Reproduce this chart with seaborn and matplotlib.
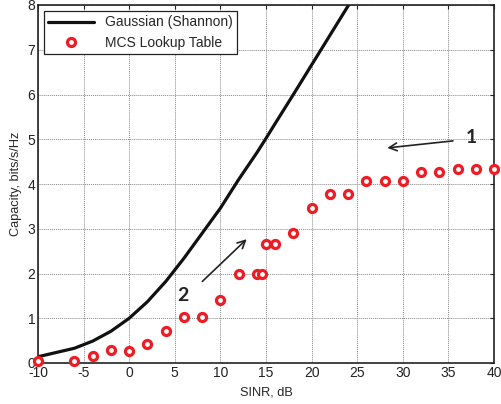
import matplotlib
matplotlib.use("Agg")
import matplotlib.pyplot as plt
import seaborn as sns
import pandas as pd

sns.set_style("white")
plt.rcParams['font.family'] = ['Liberation Sans', 'DejaVu Sans']
plt.rcParams['axes.unicode_minus'] = False

# Gaussian (Shannon) curve
shannon_sinr = [-10, -6, -4, -2, 0, 2, 4, 6, 8, 10, 12, 14, 15, 16, 18, 20, 22, 24, 25]
shannon_cap = [0.14, 0.33, 0.49, 0.71, 1.0, 1.37, 1.82, 2.34, 2.9, 3.46, 4.1, 4.7, 5.02, 5.35, 6.0, 6.66, 7.32, 7.98, 8.3]

# MCS lookup table points
mcs_sinr = [-10, -6, -4, -2, 0, 2, 4, 6, 8, 10, 12, 14, 14.6, 15, 16, 18, 20, 22, 24, 26, 28, 30, 32, 34, 36, 38, 40]
mcs_cap = [0.04, 0.04, 0.15, 0.28, 0.27, 0.42, 0.72, 1.03, 1.02, 1.40, 1.98, 1.98, 1.98, 2.66, 2.66, 2.91, 3.46, 3.77, 3.77, 4.07, 4.07, 4.07, 4.26, 4.26, 4.33, 4.33, 4.33]

xticks = [-10, -5, 0, 5, 10, 15, 20, 25, 30, 35, 40]
yticks = [0, 1, 2, 3, 4, 5, 6, 7, 8]

df_s = pd.DataFrame({"SINR": shannon_sinr, "Cap": shannon_cap})
df_m = pd.DataFrame({"SINR": mcs_sinr, "Cap": mcs_cap})

fig = plt.figure(figsize=(5.01, 4.04), dpi=100)
ax = fig.add_axes([38 / 501, (404 - 363) / 404, (494 - 38) / 501, (363 - 5) / 404])

sns.lineplot(data=df_s, x="SINR", y="Cap", ax=ax, color="#111111", linewidth=2.3,
             label="Gaussian (Shannon)", sort=False)
ax.plot(df_m["SINR"], df_m["Cap"], linestyle="none", marker="o", markersize=5.8,
        markerfacecolor="white", markeredgecolor="#ee1c25", markeredgewidth=2.3,
        label="MCS Lookup Table", clip_on=False, zorder=5)

ax.set_xlim(-10, 40)
ax.set_ylim(0, 8)
ax.set_xticks(xticks)
ax.set_yticks(yticks)
ax.set_xticklabels([str(t) for t in xticks], fontsize=10)
ax.set_yticklabels([str(t) for t in yticks], fontsize=10)
ax.set_xlabel("SINR, dB", fontsize=9.2, labelpad=4.5)
ax.set_ylabel("Capacity, bits/s/Hz", fontsize=9.2, labelpad=4)
ax.tick_params(direction="in", top=True, right=True, length=3, width=0.8, pad=2, colors="#222222")
ax.grid(True, linestyle=(0, (1, 1)), color="#888888", linewidth=0.7)
for s in ax.spines.values():
    s.set_color("#222222")
    s.set_linewidth(1.2)

leg = ax.legend(loc="upper left", fontsize=10, frameon=True, fancybox=False,
                edgecolor="#222222", borderaxespad=0.45, handlelength=3.3,
                borderpad=0.3, labelspacing=0.45, handletextpad=0.8)
leg.get_frame().set_linewidth(0.9)
leg.get_frame().set_alpha(1)

# Annotations
ax.annotate("", xy=(28.0, 4.8), xytext=(35.8, 4.97),
            arrowprops=dict(arrowstyle="->", color="#222222", lw=1.2, mutation_scale=14))
ax.text(37.5, 5.05, "1", fontsize=14, fontweight="bold", color="#222222", ha="center", va="center",
        family=["Lato", "DejaVu Sans"])
ax.annotate("", xy=(13.1, 2.81), xytext=(7.8, 1.78),
            arrowprops=dict(arrowstyle="->", color="#222222", lw=1.2, mutation_scale=14))
ax.text(5.9, 1.5, "2", fontsize=14, fontweight="bold", color="#222222", ha="center", va="center",
        family=["Lato", "DejaVu Sans"])

fig.savefig("out.png", dpi=100)
